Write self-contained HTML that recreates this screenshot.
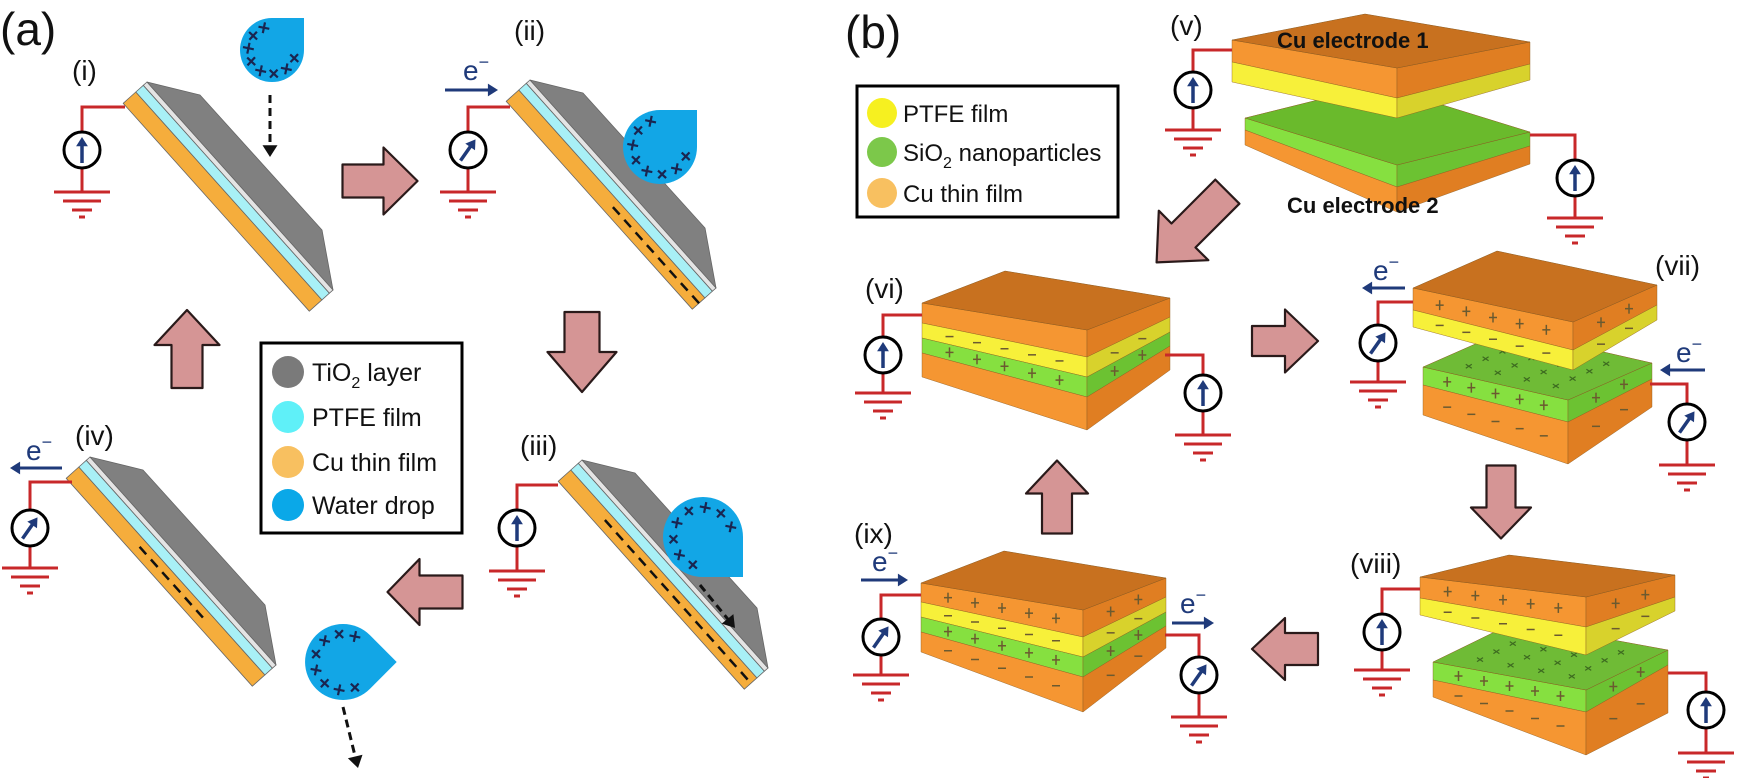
<!DOCTYPE html>
<html><head><meta charset="utf-8"><style>
html,body{margin:0;padding:0;background:#fff;}
svg{display:block;}
text{font-family:"Liberation Sans",Arial,sans-serif;}
</style></head><body>
<svg id="s" width="1737" height="778" viewBox="0 0 1737 778" xmlns="http://www.w3.org/2000/svg">
<rect width="1737" height="778" fill="#fff"/>
<g id="shapes"></g>
<g id="labels" fill="#111">
<text x="0" y="45" font-size="46">(a)</text>
<text x="72" y="80" font-size="28">(i)</text>
<text x="514" y="40" font-size="28">(ii)</text>
<text x="520" y="455" font-size="28">(iii)</text>
<text x="75" y="445" font-size="28">(iv)</text>
<text x="845" y="48" font-size="46">(b)</text>
<text x="1170" y="35" font-size="28">(v)</text>
<text x="865" y="298" font-size="28">(vi)</text>
<text x="1655" y="275" font-size="28">(vii)</text>
<text x="1350" y="573" font-size="28">(viii)</text>
<text x="854" y="543" font-size="28">(ix)</text>
<g fill="#1f3a7a" font-size="28">
<text x="463" y="80">e<tspan dy="-12" font-size="18">−</tspan></text>
<text x="26" y="460">e<tspan dy="-12" font-size="18">−</tspan></text>
<text x="1373" y="280">e<tspan dy="-12" font-size="18">−</tspan></text>
<text x="1676" y="362">e<tspan dy="-12" font-size="18">−</tspan></text>
<text x="872" y="571">e<tspan dy="-12" font-size="18">−</tspan></text>
<text x="1180" y="613">e<tspan dy="-12" font-size="18">−</tspan></text>
</g>
<text x="1277" y="48" font-size="22" font-weight="bold">Cu electrode 1</text>
<text x="1287" y="213" font-size="22" font-weight="bold">Cu electrode 2</text>
</g>
<g id="legends">
<rect x="261" y="343" width="201" height="190" fill="#fff" stroke="#000" stroke-width="3"/>
<circle cx="288" cy="372" r="16" fill="#7a7a7a"/>
<circle cx="288" cy="417" r="16" fill="#5ff0f8"/>
<circle cx="288" cy="462" r="16" fill="#f8c060"/>
<circle cx="288" cy="505" r="16" fill="#0aa8e8"/>
<g font-size="25" fill="#111">
<text x="312" y="381">TiO<tspan dy="7" font-size="16">2</tspan><tspan dy="-7"> layer</tspan></text>
<text x="312" y="426">PTFE film</text>
<text x="312" y="471">Cu thin film</text>
<text x="312" y="514">Water drop</text>
</g>
<rect x="857" y="86" width="261" height="131" fill="#fff" stroke="#000" stroke-width="3"/>
<circle cx="882" cy="113" r="15" fill="#f6f020"/>
<circle cx="882" cy="152" r="15" fill="#7cc84a"/>
<circle cx="882" cy="193" r="15" fill="#f8c060"/>
<g font-size="24" fill="#111">
<text x="903" y="122">PTFE film</text>
<text x="903" y="161">SiO<tspan dy="7" font-size="16">2</tspan><tspan dy="-7"> nanoparticles</tspan></text>
<text x="903" y="202">Cu thin film</text>
</g>
</g>
</svg>
<script>
(function(){
var out=[];
function P(pts){return pts.map(function(p){return p[0].toFixed(1)+","+p[1].toFixed(1);}).join(" ");}
function poly(pts,fill,stroke,sw){out.push('<polygon points="'+P(pts)+'" fill="'+fill+'"'+(stroke?' stroke="'+stroke+'" stroke-width="'+(sw||1)+'" stroke-linejoin="round"':'')+'/>');}
function line(x1,y1,x2,y2,c,w,extra){out.push('<line x1="'+x1+'" y1="'+y1+'" x2="'+x2+'" y2="'+y2+'" stroke="'+c+'" stroke-width="'+w+'" '+(extra||'')+'/>');}
var RED="#c8282a",NAVY="#1f3a7a";
function arrowHead(x,y,ang,size,col){ // tip at x,y pointing ang (rad)
 var a1=ang+Math.PI*0.82,a2=ang-Math.PI*0.82;
 poly([[x,y],[x+size*Math.cos(a1),y+size*Math.sin(a1)],[x+size*Math.cos(a2),y+size*Math.sin(a2)]],col);
}
function ground(cx,gy){
 line(cx-28,gy,cx+28,gy,RED,3);line(cx-19,gy+9,cx+19,gy+9,RED,3);line(cx-10,gy+18,cx+10,gy+18,RED,3);line(cx-3,gy+25,cx+3,gy+25,RED,3);
}
function meter(cx,cy,tilt,wireY,wireX,gy){
 // wire
 out.push('<polyline points="'+wireX+','+wireY+' '+cx+','+wireY+' '+cx+','+(cy-18)+'" fill="none" stroke="'+RED+'" stroke-width="3"/>');
 line(cx,cy+18,cx,gy,RED,3);
 ground(cx,gy);
 out.push('<circle cx="'+cx+'" cy="'+cy+'" r="18" fill="#fff" stroke="#000" stroke-width="3"/>');
 var a=(tilt?35:0)*Math.PI/180; var dx=Math.sin(a),dy=-Math.cos(a);
 var x1=cx-dx*13,y1=cy-dy*13,x2=cx+dx*13,y2=cy+dy*13;
 line(x1.toFixed(1),y1.toFixed(1),(cx+dx*6).toFixed(1),(cy+dy*6).toFixed(1),NAVY,3.5);
 arrowHead(x2,y2,Math.atan2(dy,dx),11,NAVY);
}
function eArrow(x1,x2,y){
 line(x1,y,x2-(x2>x1?6:-6),y,NAVY,3);
 arrowHead(x2,y,x2>x1?0:Math.PI,12,NAVY);
}
function dashArrow(x1,y1,x2,y2){
 var ang=Math.atan2(y2-y1,x2-x1);
 line(x1,y1,(x2-Math.cos(ang)*10).toFixed(1),(y2-Math.sin(ang)*10).toFixed(1),"#111",3,'stroke-dasharray="8,5"');
 arrowHead(x2,y2,ang,14,"#111");
}
function blockArrow(cx,cy,ang,len,bw,hw,hl){ // points in direction ang
 var pts=[[-len/2,-bw/2],[len/2-hl,-bw/2],[len/2-hl,-hw/2],[len/2,0],[len/2-hl,hw/2],[len/2-hl,bw/2],[-len/2,bw/2]];
 var c=Math.cos(ang),s=Math.sin(ang);
 poly(pts.map(function(p){return [cx+p[0]*c-p[1]*s,cy+p[0]*s+p[1]*c];}),"#d59595","#2a1a1a",2.2);
}
// ---- panel a slabs
var u=[0.667,0.745],n=[-0.745,0.667],L=279;
function slab(x0,y0,dashFrom,dashTo){
 function pt(t,o){return [x0+u[0]*t+n[0]*o,y0+u[1]*t+n[1]*o];}
 var bands=[[15,32,"#f5ad3c"],[5,15,"#a8f0f6"],[0,5,"#e4e4e4"]];
 bands.forEach(function(b){poly([pt(0,b[0]),pt(L,b[0]),pt(L,b[1]),pt(0,b[1])],b[2],"#666",0.8);});
 poly([[x0,y0],[x0+53,y0+13],[x0+175,y0+148],[x0+186,y0+208]],"#808080","#666",0.8);
 if(dashFrom!=null){for(var t=dashFrom;t+10<=dashTo;t+=17){var a=pt(t,23),b=pt(t+10,23);line(a[0].toFixed(1),a[1].toFixed(1),b[0].toFixed(1),b[1].toFixed(1),"#111",2.5);}}
}
function drop(cx,cy,r,thetaDeg){
 var th=thetaDeg*Math.PI/180;
 var c=[cx+r*Math.SQRT2*Math.cos(th),cy+r*Math.SQRT2*Math.sin(th)];
 var p1=[cx+r*Math.cos(th-Math.PI/4),cy+r*Math.sin(th-Math.PI/4)];
 var p2=[cx+r*Math.cos(th+Math.PI/4),cy+r*Math.sin(th+Math.PI/4)];
 out.push('<path d="M'+p1[0].toFixed(1)+','+p1[1].toFixed(1)+' L'+c[0].toFixed(1)+','+c[1].toFixed(1)+' L'+p2[0].toFixed(1)+','+p2[1].toFixed(1)+' A'+r+','+r+' 0 1 1 '+p1[0].toFixed(1)+','+p1[1].toFixed(1)+' Z" fill="#12a6e6"/>');
 for(var i=0;i<8;i++){var a=th+Math.PI/4+0.35+i*(Math.PI*1.5-0.7)/7;var mx=cx+r*0.74*Math.cos(a),my=cy+r*0.74*Math.sin(a);var s=5.5,rot=(i%2?0.2:0.75);
  for(var k=0;k<2;k++){var aa=rot+k*Math.PI/2;line((mx-s*Math.cos(aa)).toFixed(1),(my-s*Math.sin(aa)).toFixed(1),(mx+s*Math.cos(aa)).toFixed(1),(my+s*Math.sin(aa)).toFixed(1),"#1a2550",2.2);}}
}
slab(147,82,null,null);
slab(530,80,150,279);
slab(582,460,60,279);
slab(90,457,100,200);
drop(272,50,32,-45);
drop(660,147,37,-45);
drop(703,537,40,45);
drop(343,662,38,0);
dashArrow(270,95,270,157);
dashArrow(700,585,735,628);
dashArrow(343,707,358,768);
meter(82,150,false,107,125,192);
meter(468,150,true,107,510,192); eArrow(445,498,90);
meter(517,528,false,485,558,571);
meter(30,528,true,482,72,568); eArrow(62,10,468);
blockArrow(380,181,0,75,33,67,34);
blockArrow(582,352,Math.PI/2,80,35,69,40);
blockArrow(425,592,Math.PI,75,33,66,32);
blockArrow(187,349,-Math.PI/2,78,31,65,35);
// ---- panel b blocks
var COL={o:["#f59632","#e07e22"],y:["#f7f03a","#d8d22c"],g:["#86e040","#6cc232"]};
function piece(A,D,C,top,layers){
 var B=[A[0]+C[0]-D[0],A[1]+C[1]-D[1]];
 var ya=A[1],yd=D[1],yc=C[1];
 layers.forEach(function(l){
  var t=l[0],c=COL[l[1]],ch=l[2];
  var L1=[[A[0],ya],[D[0],yd],[D[0],yd+t[1]],[A[0],ya+t[0]]];
  var R1=[[D[0],yd],[C[0],yc],[C[0],yc+t[2]],[D[0],yd+t[1]]];
  poly(L1,c[0],"#8a5a20",0.4);poly(R1,c[1],"#8a5a20",0.4);
  if(ch){
   var mk=function(x,y){ if(ch=="+"){line(x-4,y,x+4,y,"#6b5a30",1.5);line(x,y-5,x,y+5,"#6b5a30",1.5);} else line(x-4,y,x+4,y,"#6b5a30",1.5);};
   for(var i=1;i<6;i++){var f=i/6;var x=A[0]+(D[0]-A[0])*f;var y=(ya+t[0]/2)+((yd+t[1]/2)-(ya+t[0]/2))*f;mk(x,y);}
   for(var i=1;i<3;i++){var f=i/3;var x=D[0]+(C[0]-D[0])*f;var y=(yd+t[1]/2)+((yc+t[2]/2)-(yd+t[1]/2))*f;mk(x,y);}
  }
  ya+=t[0];yd+=t[1];yc+=t[2];
 });
 poly([A,B,C,D],top,"#8a5a20",0.5);
 if(top=="#6fbb36"){ // x marks on green top
  for(var i=1;i<5;i++)for(var j=1;j<5;j++){var fa=i/5,fb=j/5;var x=A[0]+(D[0]-A[0])*fa+(B[0]-A[0])*fb;var y=A[1]+(D[1]-A[1])*fa+(B[1]-A[1])*fb;line(x-3,y-2,x+3,y+2,"#3d6a20",1.2);line(x-3,y+2,x+3,y-2,"#3d6a20",1.2);}
 }
}
var TOPO="#c8711f";
// v
piece([1245,118],[1397,165],[1530,132],"#6aba2c",[[[12,22,14],"g",""],[[15,25,18],"o",""]]);
piece([1232,40],[1397,68],[1530,42],TOPO,[[[22,30,22],"o",""],[[20,20,16],"y",""]]);
// vi
piece([922,303],[1087,330],[1170,298],TOPO,[[[20,27,19],"o",""],[[15,20,15],"y","-"],[[15,20,14],"g","+"],[[24,33,24],"o",""]]);
// ix
piece([921,583],[1083,610],[1166,578],TOPO,[[[19,27,19],"o","+"],[[15,20,15],"y","-"],[[15,20,14],"g","+"],[[20,35,22],"o","-"]]);
// vii
piece([1423,367],[1568,400],[1652,363],"#6fbb36",[[[18,22,16],"g","+"],[[30,42,28],"o","-"]]);
piece([1413,288],[1573,322],[1657,285],TOPO,[[[22,28,20],"o","+"],[[17,20,15],"y","-"]]);
// viii
piece([1433,662],[1586,690],[1668,650],"#6fbb36",[[[18,22,15],"g","+"],[[17,43,48],"o","-"]]);
piece([1420,577],[1586,597],[1675,575],TOPO,[[[21,30,22],"o","+"],[[17,28,14],"y","-"]]);
// circuits b
meter(1193,90,false,50,1232,130);
meter(1575,178,false,135,1530,218);
meter(883,355,false,315,922,393);
meter(1203,393,false,355,1165,435);
meter(1378,343,true,302,1413,382); eArrow(1405,1362,288);
meter(1687,422,true,384,1650,465); eArrow(1705,1660,370);
meter(1382,632,false,589,1420,670);
meter(1706,710,false,673,1668,753);
meter(881,637,true,595,921,675); eArrow(861,908,580);
meter(1199,675,true,635,1165,717); eArrow(1172,1214,623);
// arrows b
blockArrow(1192,227,Math.PI*0.75,100,34,70,38);
blockArrow(1285,341,0,66,30,63,33);
blockArrow(1057,497,-Math.PI/2,73,30,62,33);
blockArrow(1501,502,Math.PI/2,73,29,60,31);
blockArrow(1285,649,Math.PI,66,32,62,33);
document.getElementById("shapes").innerHTML=out.join("");
})();
</script>
</body></html>
